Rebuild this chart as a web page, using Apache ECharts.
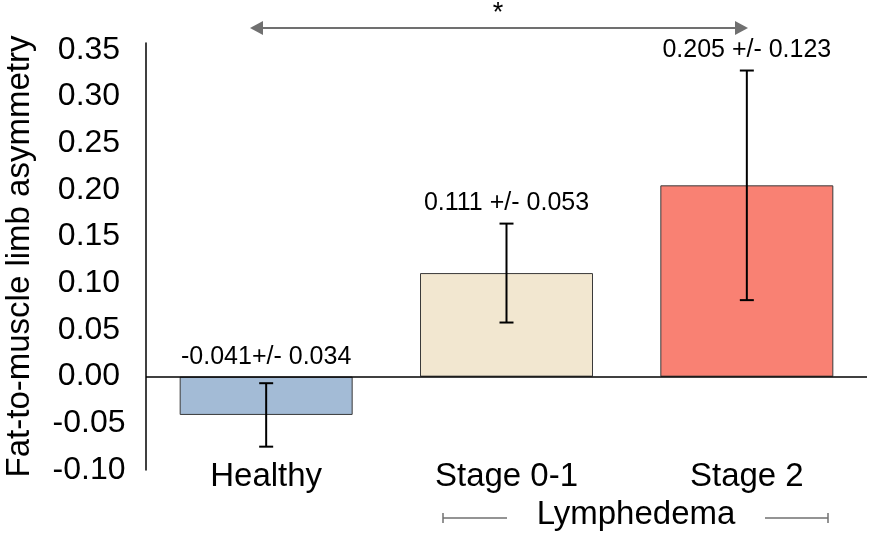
<!DOCTYPE html>
<html><head><meta charset="utf-8">
<script src="https://cdn.jsdelivr.net/npm/echarts@6/dist/echarts.min.js"></script>
<style>html,body{margin:0;padding:0;background:#fff}#c{width:869px;height:537px}</style>
</head><body><div id="c"></div>
<script>
const categories = ['Healthy', 'Stage 0-1', 'Stage 2'];
const means = [-0.041, 0.111, 0.205];
const sds = [0.034, 0.053, 0.123];
const valueLabels = ['-0.041+/- 0.034', '0.111 +/- 0.053', '0.205 +/- 0.123'];
const barColors = ['#A3BBD6', '#F2E7D0', '#F98173'];
const groupLabel = 'Lymphedema';
const sigMark = '*';
const yTitle = 'Fat-to-muscle limb asymmetry';

const FONT = '"Liberation Sans", Arial, sans-serif';
const chart = echarts.init(document.getElementById('c'));

function isTick(v) { return Math.abs(v * 20 - Math.round(v * 20)) < 1e-6; }

const arrowY = 28, arrowL = 250, arrowR = 748, headL = 13, headW = 7;
const gray = '#707070';

chart.setOption({
  animation: false,
  textStyle: { fontFamily: FONT },
  grid: { left: 146, right: 2, top: 43, bottom: 67, containLabel: false, outerBoundsMode: 'none' },
  xAxis: {
    type: 'category',
    data: categories,
    axisLine: { show: false, onZero: false },
    axisTick: { show: false },
    axisLabel: { fontSize: 33, color: '#000', fontFamily: FONT, margin: -10 },
    splitLine: { show: false }
  },
  yAxis: {
    type: 'value',
    min: -0.1, max: 0.3575, interval: 0.05,
    name: yTitle,
    nameLocation: 'middle',
    nameGap: 110,
    nameTextStyle: { fontSize: 33, color: '#000', fontFamily: FONT },
    axisLine: { show: true, lineStyle: { color: '#000', width: 1.5 } },
    axisTick: { show: false },
    splitLine: { show: false },
    axisLabel: {
      fontSize: 32, color: '#000', fontFamily: FONT, align: 'center', margin: 57,
      showMaxLabel: false,
      formatter: v => isTick(v) ? (Math.abs(v) < 1e-9 ? '0.00' : v.toFixed(2)) : ''
    }
  },
  series: [
    {
      type: 'bar',
      barWidth: 173,
      data: means.map((m, i) => ({ value: m, itemStyle: { color: barColors[i], borderColor: '#3a3a3a', borderWidth: 1 } })),
      markLine: {
        silent: true, symbol: 'none', label: { show: false },
        lineStyle: { color: '#000', width: 1.5, type: 'solid' },
        data: [{ yAxis: 0 }]
      },
      z: 2
    },
    {
      type: 'custom',
      z: 5,
      data: means.map((m, i) => [i, m - sds[i], m + sds[i]]),
      renderItem(params, api) {
        const lo = api.coord([api.value(0), api.value(1)]);
        const hi = api.coord([api.value(0), api.value(2)]);
        const cap = 7;
        const st = { stroke: '#000', lineWidth: 2 };
        return {
          type: 'group',
          children: [
            { type: 'line', shape: { x1: lo[0], y1: lo[1], x2: hi[0], y2: hi[1] }, style: st },
            { type: 'line', shape: { x1: hi[0] - cap, y1: hi[1], x2: hi[0] + cap, y2: hi[1] }, style: st },
            { type: 'line', shape: { x1: lo[0] - cap, y1: lo[1], x2: lo[0] + cap, y2: lo[1] }, style: st }
          ]
        };
      }
    },
    {
      type: 'custom',
      z: 6,
      data: means.map((m, i) => [i, Math.max(0, m + sds[i])]),
      renderItem(params, api) {
        const p = api.coord([api.value(0), api.value(1)]);
        return {
          type: 'text',
          x: p[0], y: p[1] - 20,
          style: {
            text: valueLabels[params.dataIndex], fontSize: 25, fontFamily: FONT,
            fill: '#000', align: 'center', verticalAlign: 'middle'
          }
        };
      }
    }
  ],
  graphic: [
    { type: 'line', shape: { x1: arrowL + headL, y1: arrowY, x2: arrowR - headL, y2: arrowY }, style: { stroke: gray, lineWidth: 2 } },
    { type: 'polygon', shape: { points: [[arrowL, arrowY], [arrowL + headL, arrowY - headW], [arrowL + headL, arrowY + headW]] }, style: { fill: gray } },
    { type: 'polygon', shape: { points: [[arrowR, arrowY], [arrowR - headL, arrowY - headW], [arrowR - headL, arrowY + headW]] }, style: { fill: gray } },
    { type: 'text', x: 498, y: 14, style: { text: sigMark, fontSize: 27, fontFamily: FONT, fill: '#000', align: 'center', verticalAlign: 'middle' } },
    { type: 'text', x: 636, y: 515, style: { text: groupLabel, fontSize: 33, fontFamily: FONT, fill: '#000', align: 'center', verticalAlign: 'middle' } },
    { type: 'line', shape: { x1: 443, y1: 518, x2: 507, y2: 518 }, style: { stroke: gray, lineWidth: 1.5 } },
    { type: 'line', shape: { x1: 443, y1: 513, x2: 443, y2: 523 }, style: { stroke: gray, lineWidth: 1.5 } },
    { type: 'line', shape: { x1: 765, y1: 518, x2: 828, y2: 518 }, style: { stroke: gray, lineWidth: 1.5 } },
    { type: 'line', shape: { x1: 828, y1: 513, x2: 828, y2: 523 }, style: { stroke: gray, lineWidth: 1.5 } }
  ]
});
</script></body></html>
